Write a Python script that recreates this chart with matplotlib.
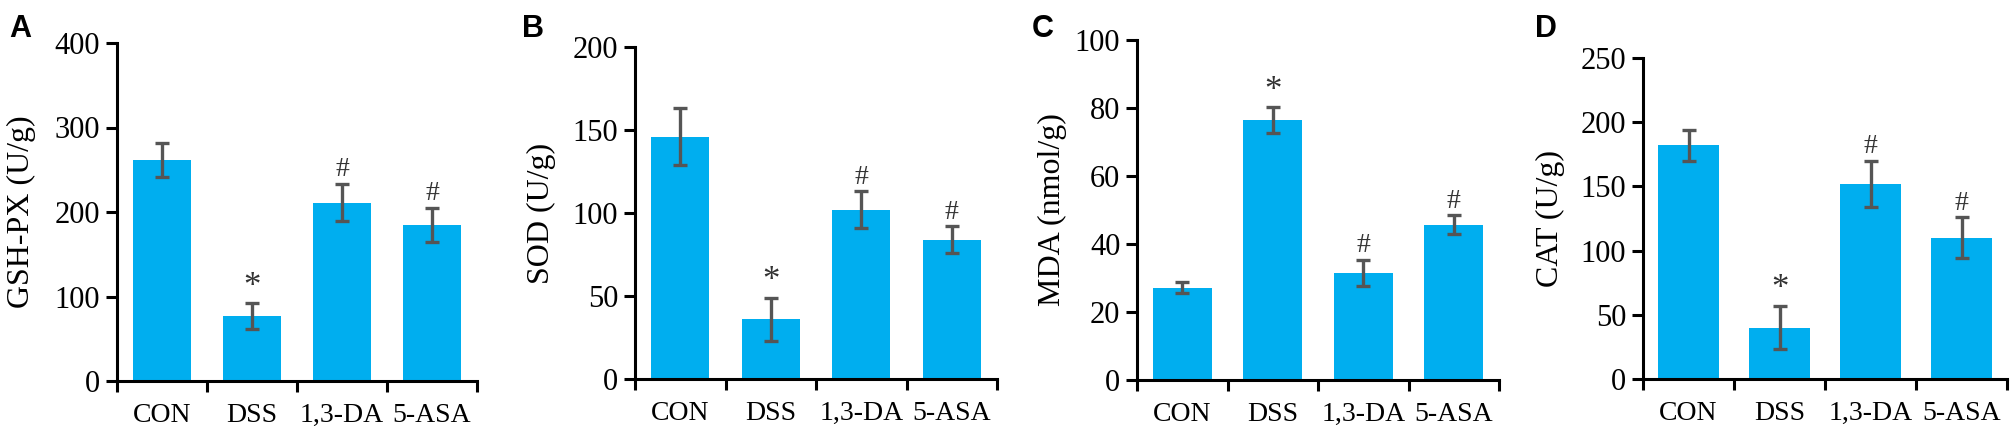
"""Oxidative stress markers (GSH-PX, SOD, MDA, CAT) across treatment groups."""

import matplotlib

matplotlib.use("Agg")

import matplotlib.pyplot as plt

groups = ["CON", "DSS", "1,3-DA", "5-ASA"]

gsh_mean = [262, 77, 211, 185]
gsh_err = [20, 15, 22, 20]
gsh_marks = ["", "*", "#", "#"]

sod_mean = [146, 36, 102, 84]
sod_err = [17, 13, 11, 8]
sod_marks = ["", "*", "#", "#"]

mda_mean = [27.2, 76.4, 31.5, 45.6]
mda_err = [1.5, 3.8, 3.9, 2.8]
mda_marks = ["", "*", "#", "#"]

cat_mean = [182, 40, 152, 110]
cat_err = [12, 17, 18, 16]
cat_marks = ["", "*", "#", "#"]

BAR = "#00AEEF"
ERR = "#555555"
W, H = 2011, 426

plt.rcParams["font.family"] = ["Liberation Serif", "DejaVu Serif"]

fig = plt.figure(figsize=(W / 100, H / 100), dpi=100)

panels = [
    # letter, ylabel, means, errs, marks, ymax, ystep,
    # axes box (left, right, bottom, top) px, bar width, letter x px, ylabel centre x px
    ("A", "GSH-PX (U/g)", gsh_mean, gsh_err, gsh_marks, 400, 100, (117, 477, 381, 43), 0.65, 9, 21),
    ("B", "SOD (U/g)", sod_mean, sod_err, sod_marks, 200, 50, (635, 997, 379, 47), 0.64, 522, 541),
    ("C", "MDA (nmol/g)", mda_mean, mda_err, mda_marks, 100, 20, (1137, 1499, 380, 40), 0.65, 1032, 1052),
    ("D", "CAT (U/g)", cat_mean, cat_err, cat_marks, 250, 50, (1643, 2007, 379, 58), 0.68, 1535, 1550),
]

for letter, ylabel, means, errs, marks, ymax, ystep, box, bw, lx, yx in panels:
    l, r, b, t = box
    ax = fig.add_axes([l / W, 1 - b / H, (r - l) / W, (b - t) / H])
    x = list(range(len(groups)))
    ax.bar(x, means, width=bw, color=BAR, edgecolor="none", zorder=2)
    ax.errorbar(x, means, yerr=errs, fmt="none", ecolor=ERR, elinewidth=2.4,
                capsize=5, capthick=2.4, zorder=3)
    for xi, m, e, s in zip(x, means, errs, marks):
        if s:
            ax.annotate(s, (xi, m + e), xytext=(0, 5.5), textcoords="offset points",
                        ha="center", va="baseline", fontsize=25 if s == "*" else 20,
                        color="#333333")

    ax.set_xlim(-0.5, len(groups) - 0.5)
    ax.set_ylim(0, ymax)
    ax.set_yticks(range(0, ymax + 1, ystep))
    ax.set_xticks([i - 0.5 for i in range(len(groups) + 1)])
    ax.set_xticklabels([])
    ax.set_xticks(x, minor=True)
    ax.set_xticklabels(groups, minor=True)
    ax.tick_params(axis="x", which="minor", length=0, pad=16, labelsize=20)
    ax.tick_params(axis="x", which="major", length=8, width=2.2, direction="out")
    ax.tick_params(axis="y", length=8, width=2.2, direction="out", labelsize=22, pad=4)
    for side in ("top", "right"):
        ax.spines[side].set_visible(False)
    for side in ("left", "bottom"):
        ax.spines[side].set_linewidth(2.2)
    ax.set_ylabel(ylabel, fontsize=23, va="center")
    ax.yaxis.set_label_coords((yx - l) / (r - l), 0.5)
    fig.text(lx / W, 1 - 14 / H, letter, fontsize=22, fontweight="bold",
             family="Liberation Sans", va="top", ha="left")

fig.savefig("out.png", dpi=100)
